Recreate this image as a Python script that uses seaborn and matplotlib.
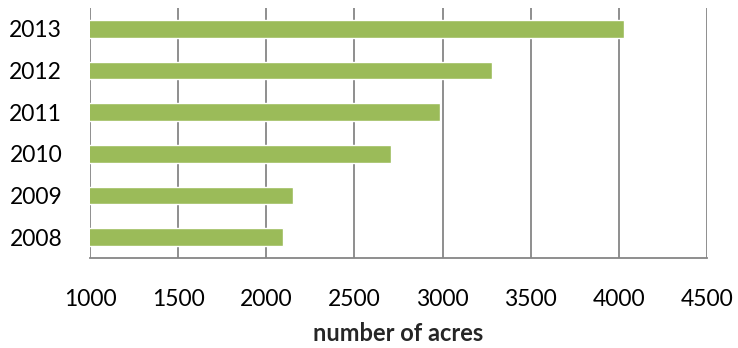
import matplotlib
matplotlib.use("Agg")
import matplotlib.pyplot as plt
import seaborn as sns
import pandas as pd

years = ["2013", "2012", "2011", "2010", "2009", "2008"]
acres = [4032, 3282, 2988, 2707, 2152, 2093]
xticks = [1000, 1500, 2000, 2500, 3000, 3500, 4000, 4500]

sns.set_style("white")
plt.rcParams["font.family"] = ["Lato", "DejaVu Sans"]

df = pd.DataFrame({"year": years, "acres": acres})

fig = plt.figure(figsize=(7.38, 3.48), dpi=100)
ax = fig.add_axes([90 / 738, 1 - 258 / 348, (707 - 90) / 738, (258 - 8) / 348])

sns.barplot(data=df, x="acres", y="year", order=years, color="#9BBB59",
            width=0.42, saturation=1, ax=ax, zorder=3)

ax.set_xlim(1000, 4500)
ax.set_ylim(5.5, -0.5)
ax.set_xticks(xticks)
ax.set_xticklabels([str(t) for t in xticks])
ax.xaxis.grid(True, color="#868686", linewidth=1.3, zorder=0)
ax.set_axisbelow(True)
for s in ["top", "left", "right"]:
    ax.spines[s].set_visible(False)
ax.spines["bottom"].set_color("#868686")
ax.spines["bottom"].set_linewidth(1.3)
ax.tick_params(axis="x", length=0, pad=22, labelsize=16.5, colors="black")
ax.tick_params(axis="y", length=0, pad=20, labelsize=16.5, colors="black")
ax.set_ylabel("")
ax.set_xlabel("number of acres", fontsize=17, fontweight="bold", labelpad=9)

fig.savefig("out.png", dpi=100, facecolor="white")
